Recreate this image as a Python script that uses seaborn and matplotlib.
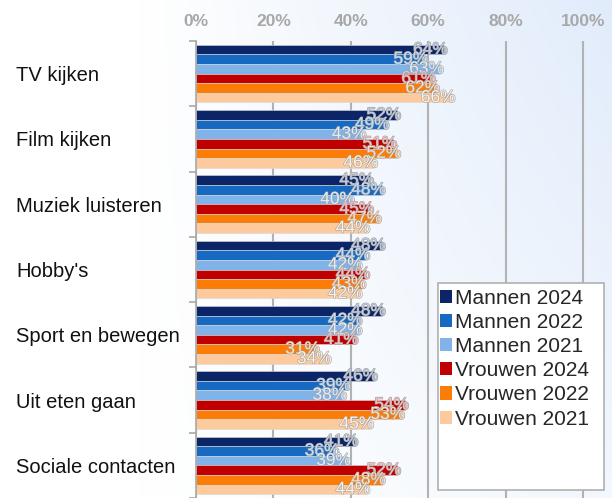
import numpy as np
import pandas as pd
import matplotlib
matplotlib.use("Agg")
import matplotlib.pyplot as plt
import matplotlib.patheffects as pe
from matplotlib.patches import Rectangle
import matplotlib.colors as mcolors
import seaborn as sns

categories = ["TV kijken", "Film kijken", "Muziek luisteren", "Hobby's",
              "Sport en bewegen", "Uit eten gaan", "Sociale contacten"]
series = ["Mannen 2024", "Mannen 2022", "Mannen 2021",
          "Vrouwen 2024", "Vrouwen 2022", "Vrouwen 2021"]
mannen_2024 = [64, 52, 45, 48, 48, 46, 41]
mannen_2022 = [59, 49, 48, 44, 42, 39, 36]
mannen_2021 = [63, 43, 40, 42, 42, 38, 39]
vrouwen_2024 = [61, 51, 45, 44, 41, 54, 52]
vrouwen_2022 = [62, 52, 47, 43, 31, 53, 48]
vrouwen_2021 = [66, 46, 44, 42, 34, 45, 44]
x_ticks = [0, 20, 40, 60, 80, 100]

colors = ["#0b2566", "#1769c2", "#80b3ea", "#c00000", "#fb7d08", "#fcca9c"]

values = [mannen_2024, mannen_2022, mannen_2021, vrouwen_2024, vrouwen_2022, vrouwen_2021]
rows = []
for s, vals in zip(series, values):
    for c, v in zip(categories, vals):
        rows.append({"Categorie": c, "Reeks": s, "Waarde": v})
df = pd.DataFrame(rows)

sns.set_theme(style="white")
plt.rcParams["font.family"] = ["Liberation Sans", "DejaVu Sans"]

fig = plt.figure(figsize=(6.12, 4.98), dpi=100)
fig.patch.set_facecolor("white")

# background gradient
bg = fig.add_axes([0, 0, 1, 1], zorder=-5)
gx = np.linspace(0, 1, 200)
gy = np.linspace(0, 1, 200)
GX, GY = np.meshgrid(gx, gy)
t = np.clip(GX * 1.1 - 0.25, 0, 1) * (1 - 0.6 * GY)
white = np.array([1.0, 1.0, 1.0])
blue = np.array([0.86, 0.91, 0.98])
img = white[None, None, :] * (1 - t[..., None]) + blue[None, None, :] * t[..., None]
bg.imshow(img, aspect="auto", extent=[0, 1, 0, 1], origin="upper")
bg.axis("off")

L = 196 / 612
top = 1 - 41 / 498
ax = fig.add_axes([L, 0, 1 - L, top])
ax.set_facecolor("none")

sns.barplot(data=df, y="Categorie", x="Waarde", hue="Reeks", order=categories,
            hue_order=series, palette=colors, orient="h", width=0.88,
            edgecolor="#d8d8d8", linewidth=0.4, saturation=1, ax=ax,
            legend=False, errorbar=None)

ax.set_xlim(0, 100 * (612 - 196) / (583 - 196))
ax.set_ylim(6.5, -0.5)
ax.set_xlabel("")
ax.set_ylabel("")

ax.xaxis.tick_top()
ax.set_xticks(x_ticks)
ax.set_xticklabels([f"{v}%" for v in x_ticks], color="#a8a8a8", fontsize=12.5,
                   fontweight="bold")
ax.tick_params(axis="x", length=0, pad=9)
ax.grid(axis="x", color="#b2b2b2", linewidth=1.5)
ax.set_axisbelow(True)

ax.set_yticks(range(len(categories)))
ax.set_yticklabels(categories, fontsize=14.5, color="#111111", ha="left")
ax.tick_params(axis="y", length=0, pad=(196 - 16) * 72 / 100)
ax.set_yticks(np.arange(-0.5, len(categories), 1), minor=True)
ax.tick_params(axis="y", which="minor", length=5, color="#a8a8a8", width=1.2, left=True)

for sp in ["top", "right", "bottom"]:
    ax.spines[sp].set_visible(False)
ax.spines["left"].set_color("#a8a8a8")
ax.spines["left"].set_linewidth(1.2)

for cont, col in zip(ax.containers, colors):
    rgb = np.array(mcolors.to_rgb(col))
    light = rgb * 0.25 + 0.75
    texts = ax.bar_label(cont, labels=[f"{int(v)}%" for v in cont.datavalues],
                         padding=3, fontsize=12.5, color=light,
                         path_effects=[pe.withStroke(linewidth=0.8, foreground="#a0a0a0")])
    for tx in texts:
        tx.set_ha("right")

# legend
handles = [Rectangle((0, 0), 1, 1, facecolor=c, edgecolor="none") for c in colors]
box = Rectangle((438 / 612, 1 - 490 / 498), (604 - 438) / 612, (490 - 283) / 498,
                transform=fig.transFigure, facecolor="white", edgecolor="#b0b0b0",
                linewidth=1.2, zorder=4)
fig.patches.append(box)
leg = fig.legend(handles, series, loc="upper left",
                 bbox_to_anchor=(425 / 612, 1 - 274 / 498), frameon=False,
                 fontsize=15, handlelength=0.6, handleheight=0.6,
                 handletextpad=0.15, labelspacing=0.25, borderpad=0.2)
leg.set_zorder(5)

fig.savefig("out.png", dpi=100)
